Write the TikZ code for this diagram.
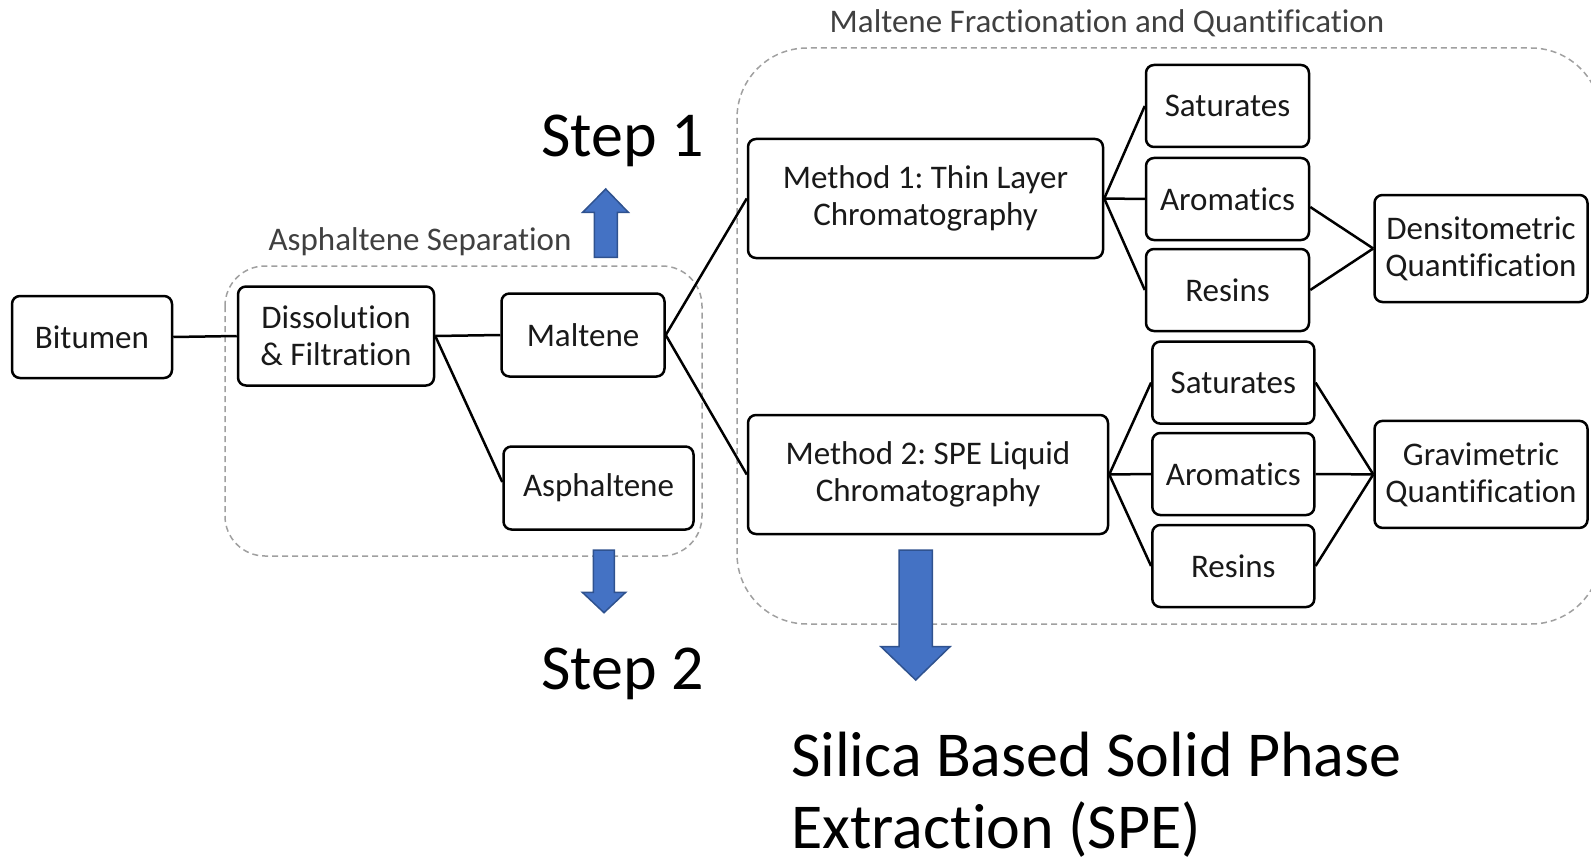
\documentclass[tikz,border=0pt]{standalone}
\usepackage{fontspec}
\setmainfont{Carlito}[Ligatures=NoCommon,Contextuals=NoAlternate]
\frenchspacing
\definecolor{arrowfill}{HTML}{4472C4}
\definecolor{arrowline}{HTML}{2F528F}
\definecolor{dashgray}{HTML}{A0A0A0}
\definecolor{labelgray}{HTML}{404040}
\begin{document}
\begin{tikzpicture}[x=1pt,y=-1pt,
  box/.style={draw=black, rounded corners=8pt, line width=2.5pt, inner sep=0pt, align=center,
    font=\fontsize{33}{37}\selectfont, text=black!90},
  conn/.style={draw=black, line width=2.5pt},
  group/.style={draw=dashgray, line width=1.5pt, dash pattern=on 6pt off 4pt},
  grouplabel/.style={anchor=base, inner sep=0pt, text=labelgray, font=\fontsize{33}{37}\selectfont},
  bigtext/.style={inner sep=0pt, text=black, font=\fontsize{64}{78}\selectfont},
  blockarrow/.style={fill=arrowfill, draw=arrowline, line width=1.5pt, line join=miter}]
\useasboundingbox (0,0) rectangle (1591,864);
% group frames
\draw[group, rounded corners=40pt] (225,266) rectangle (702,556);
\draw[group, rounded corners=70pt] (737,48) rectangle (1601,624);
\node[grouplabel] (lblasph) at (420,250) {Asphaltene Separation};
\node[grouplabel] (lblmalt) at (1107,33) {Maltene Fractionation and Quantification};
% boxes
\node[box, minimum width=160pt, minimum height=82pt] (bitumen) at (92,337) {Bitumen};
\node[box, minimum width=196pt, minimum height=99pt] (diss) at (336,336) {Dissolution\\\& Filtration};
\node[box, minimum width=163pt, minimum height=83pt] (maltene) at (583,335) {Maltene};
\node[box, minimum width=190pt, minimum height=83pt] (asph) at (598.5,488) {Asphaltene};
\node[box, minimum width=355pt, minimum height=119pt] (m1) at (925.5,198.5) {Method 1: Thin Layer\\Chromatography};
\node[box, minimum width=360pt, minimum height=119pt] (m2) at (928,474.5) {Method 2: SPE Liquid\\Chromatography};
\node[box, minimum width=163pt, minimum height=82pt] (sat1) at (1227.5,106) {Saturates};
\node[box, minimum width=163pt, minimum height=82pt] (aro1) at (1227.5,199) {Aromatics};
\node[box, minimum width=163pt, minimum height=82pt] (res1) at (1227.5,290) {Resins};
\node[box, minimum width=213pt, minimum height=107pt] (dens) at (1481,248.5) {Densitometric\\Quantification};
\node[box, minimum width=162pt, minimum height=82pt] (sat2) at (1233.3,382.6) {Saturates};
\node[box, minimum width=162pt, minimum height=82pt] (aro2) at (1233.3,474) {Aromatics};
\node[box, minimum width=162pt, minimum height=82pt] (res2) at (1233.3,566) {Resins};
\node[box, minimum width=213pt, minimum height=107pt] (grav) at (1481,474.4) {Gravimetric\\Quantification};
% connectors
\draw[conn] (bitumen.east) -- (diss.west);
\draw[conn] (diss.east) -- (maltene.west);
\draw[conn] (diss.east) -- ([yshift=6pt]asph.west);
\draw[conn] (maltene.east) -- (m1.west);
\draw[conn] (maltene.east) -- (m2.west);
\draw[conn] (m1.east) -- (sat1.west);
\draw[conn] (m1.east) -- (aro1.west);
\draw[conn] (m1.east) -- (res1.west);
\draw[conn] ([yshift=-8pt]aro1.east) -- (dens.west);
\draw[conn] (res1.east) -- (dens.west);
\draw[conn] (m2.east) -- (sat2.west);
\draw[conn] (m2.east) -- (aro2.west);
\draw[conn] (m2.east) -- (res2.west);
\draw[conn] (sat2.east) -- (grav.west);
\draw[conn] (aro2.east) -- (grav.west);
\draw[conn] (res2.east) -- (grav.west);
% block arrows
\draw[blockarrow] (605.7,189) -- (628.3,212.3) -- (617.3,212.3) -- (617.3,257.3) -- (594.3,257.3) -- (594.3,212.3) -- (582.7,212.3) -- cycle;
\draw[blockarrow] (593.3,550) -- (614.3,550) -- (614.3,592.3) -- (625.7,592.3) -- (604,612.7) -- (582.3,592.3) -- (593.3,592.3) -- cycle;
\draw[blockarrow] (899,550) -- (932.3,550) -- (932.3,646.7) -- (950,646.7) -- (915.7,680) -- (881,646.7) -- (899,646.7) -- cycle;
% big texts
\node[bigtext, anchor=base] (step1) at (622.5,157) {Step 1};
\node[bigtext, anchor=base] (step2) at (622.5,689) {Step 2};
\node[bigtext, anchor=base west] (silica1) at (791,776) {Silica Based Solid Phase};
\node[bigtext, anchor=base west] (silica2) at (791,848) {Extraction (SPE)};
\end{tikzpicture}
\end{document}
